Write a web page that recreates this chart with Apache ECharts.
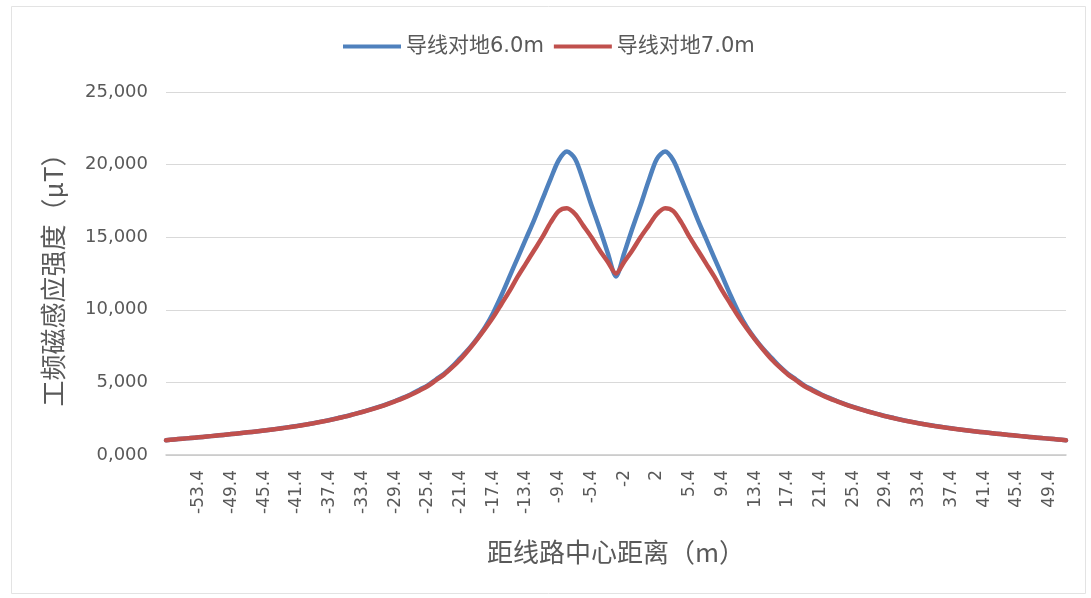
<!DOCTYPE html>
<html>
<head>
<meta charset="utf-8">
<script src="https://cdn.jsdelivr.net/npm/echarts@6/dist/echarts.min.js"></script>
<style>
  html, body { margin: 0; padding: 0; background: #ffffff; }
  #chart { width: 1091px; height: 598px; }
</style>
</head>
<body>
<div id="chart"></div>
<script>
// Distance from line centre (m), one category per measuring point
const categories = [
  '-57.4', '-56.4', '-55.4', '-54.4', '-53.4', '-52.4', '-51.4', '-50.4', '-49.4', '-48.4',
  '-47.4', '-46.4', '-45.4', '-44.4', '-43.4', '-42.4', '-41.4', '-40.4', '-39.4', '-38.4',
  '-37.4', '-36.4', '-35.4', '-34.4', '-33.4', '-32.4', '-31.4', '-30.4', '-29.4', '-28.4',
  '-27.4', '-26.4', '-25.4', '-24.4', '-23.4', '-22.4', '-21.4', '-20.4', '-19.4', '-18.4',
  '-17.4', '-16.4', '-15.4', '-14.4', '-13.4', '-12.4', '-11.4', '-10.4', '-9.4', '-8.4',
  '-7.4', '-6.4', '-5.4', '-4.4', '-3.4', '-2.4', '-2', '-1', '0', '1',
  '2', '2.4', '3.4', '4.4', '5.4', '6.4', '7.4', '8.4', '9.4', '10.4',
  '11.4', '12.4', '13.4', '14.4', '15.4', '16.4', '17.4', '18.4', '19.4', '20.4',
  '21.4', '22.4', '23.4', '24.4', '25.4', '26.4', '27.4', '28.4', '29.4', '30.4',
  '31.4', '32.4', '33.4', '34.4', '35.4', '36.4', '37.4', '38.4', '39.4', '40.4',
  '41.4', '42.4', '43.4', '44.4', '45.4', '46.4', '47.4', '48.4', '49.4', '50.4',
  '51.4'
];

// Labels printed under the axis
const tickLabels = [
  '-53.4', '-49.4', '-45.4', '-41.4', '-37.4', '-33.4', '-29.4', '-25.4', '-21.4',
  '-17.4', '-13.4', '-9.4', '-5.4', '-2', '2', '5.4', '9.4', '13.4', '17.4',
  '21.4', '25.4', '29.4', '33.4', '37.4', '41.4', '45.4', '49.4'
];

const seriesNames = ['导线对地6.0m', '导线对地7.0m'];

// Power-frequency magnetic induction (μT), conductor height 6.0 m
const field6m = [
  1.02, 1.07, 1.12, 1.17, 1.22, 1.27, 1.33, 1.38, 1.44, 1.50,
  1.56, 1.62, 1.69, 1.76, 1.84, 1.92, 2.00, 2.09, 2.19, 2.30,
  2.41, 2.54, 2.67, 2.82, 2.97, 3.14, 3.32, 3.51, 3.72, 3.95,
  4.20, 4.50, 4.80, 5.20, 5.60, 6.10, 6.70, 7.30, 8.00, 8.80,
  9.80, 11.00, 12.30, 13.60, 14.90, 16.20, 17.60, 19.00, 20.30, 20.90,
  20.40, 18.90, 17.20, 15.60, 13.90, 12.30, 13.90, 15.60, 17.20, 18.90,
  20.40, 20.90, 20.30, 19.00, 17.60, 16.20, 14.90, 13.60, 12.30, 11.00,
  9.80, 8.80, 8.00, 7.30, 6.70, 6.10, 5.60, 5.20, 4.80, 4.50,
  4.20, 3.95, 3.72, 3.51, 3.32, 3.14, 2.97, 2.82, 2.67, 2.54,
  2.41, 2.30, 2.19, 2.09, 2.00, 1.92, 1.84, 1.76, 1.69, 1.62,
  1.56, 1.50, 1.44, 1.38, 1.33, 1.27, 1.22, 1.17, 1.12, 1.07,
  1.02
];

// Power-frequency magnetic induction (μT), conductor height 7.0 m
const field7m = [
  1.02, 1.07, 1.12, 1.17, 1.22, 1.27, 1.33, 1.38, 1.44, 1.50,
  1.56, 1.62, 1.69, 1.76, 1.83, 1.91, 1.99, 2.08, 2.18, 2.29,
  2.40, 2.53, 2.66, 2.81, 2.96, 3.12, 3.30, 3.49, 3.70, 3.92,
  4.17, 4.45, 4.75, 5.15, 5.55, 6.05, 6.60, 7.25, 7.95, 8.70,
  9.50, 10.40, 11.30, 12.30, 13.20, 14.10, 15.00, 16.00, 16.80, 17.00,
  16.60, 15.80, 15.00, 14.10, 13.30, 12.50, 13.30, 14.10, 15.00, 15.80,
  16.60, 17.00, 16.80, 16.00, 15.00, 14.10, 13.20, 12.30, 11.30, 10.40,
  9.50, 8.70, 7.95, 7.25, 6.60, 6.05, 5.55, 5.15, 4.75, 4.45,
  4.17, 3.92, 3.70, 3.49, 3.30, 3.12, 2.96, 2.81, 2.66, 2.53,
  2.40, 2.29, 2.18, 2.08, 1.99, 1.91, 1.83, 1.76, 1.69, 1.62,
  1.56, 1.50, 1.44, 1.38, 1.33, 1.27, 1.22, 1.17, 1.12, 1.07,
  1.02
];

const colors = ['#4F81BD', '#C0504D'];
const textColor = '#595959';

const chart = echarts.init(document.getElementById('chart'), null, { renderer: 'canvas' });

chart.setOption({
  animation: false,
  backgroundColor: '#ffffff',
  color: colors,
  graphic: [{
    type: 'rect',
    left: 9, top: 4,
    shape: { width: 1074, height: 587 },
    style: { fill: 'none', stroke: '#E3E3E3', lineWidth: 1 },
    silent: true
  }],
  legend: {
    top: 31,
    left: 338,
    itemWidth: 58,
    itemHeight: 4,
    itemGap: 10,
    icon: 'rect',
    textStyle: {
      color: textColor,
      fontSize: 21,
      fontFamily: '"DejaVu Sans", "Noto Sans CJK SC", sans-serif'
    },
    data: seriesNames
  },
  grid: { left: 166, right: 25, top: 92, bottom: 143 },
  xAxis: {
    type: 'category',
    data: categories,
    boundaryGap: false,
    name: '距线路中心距离（m）',
    nameLocation: 'middle',
    nameGap: 84,
    nameTextStyle: {
      color: textColor,
      fontSize: 26,
      fontFamily: '"Noto Sans CJK SC", sans-serif'
    },
    axisLine: { lineStyle: { color: '#C8C8C8', width: 1.5 } },
    axisTick: { show: false },
    axisLabel: {
      rotate: 90,
      margin: 15,
      color: textColor,
      fontSize: 17,
      fontFamily: '"DejaVu Sans", sans-serif',
      interval: (index, value) => tickLabels.includes(value)
    },
    splitLine: { show: false }
  },
  yAxis: {
    type: 'value',
    min: 0,
    max: 25,
    interval: 5,
    name: '工频磁感应强度（μT）',
    nameLocation: 'middle',
    nameGap: 100,
    nameRotate: 90,
    nameTextStyle: {
      color: textColor,
      fontSize: 26,
      fontFamily: '"Noto Sans CJK SC", sans-serif'
    },
    axisLine: { show: false },
    axisTick: { show: false },
    axisLabel: {
      margin: 18,
      color: textColor,
      fontSize: 18,
      fontFamily: '"DejaVu Sans", sans-serif',
      formatter: (v) => v.toFixed(3).replace('.', ',')
    },
    splitLine: { lineStyle: { color: '#D9D9D9', width: 1 } }
  },
  series: [
    {
      name: seriesNames[0],
      type: 'line',
      data: field6m,
      smooth: 0.3,
      showSymbol: false,
      lineStyle: { width: 4.5, color: colors[0], cap: 'round', join: 'round' }
    },
    {
      name: seriesNames[1],
      type: 'line',
      data: field7m,
      smooth: 0.3,
      showSymbol: false,
      lineStyle: { width: 4.5, color: colors[1], cap: 'round', join: 'round' }
    }
  ]
});
</script>
</body>
</html>
